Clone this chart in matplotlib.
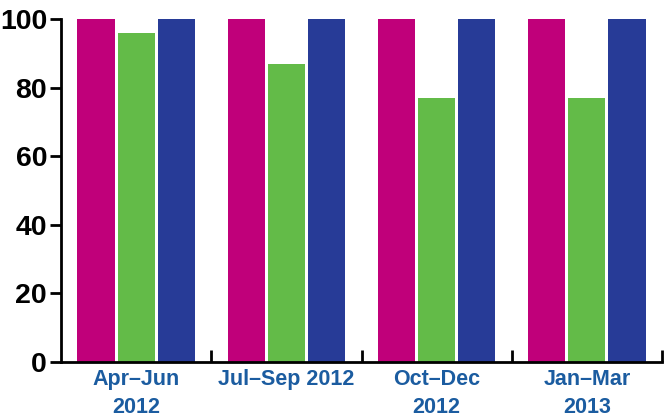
import matplotlib
matplotlib.use("Agg")
import matplotlib.pyplot as plt
import numpy as np

quarters = ["Apr\u2013Jun\n2012", "Jul\u2013Sep 2012", "Oct\u2013Dec\n2012", "Jan\u2013Mar\n2013"]
series_a = [100, 100, 100, 100]   # magenta
series_b = [96, 87, 77, 77]       # green
series_c = [100, 100, 100, 100]   # blue
colors = ["#C0007A", "#63BB48", "#273B97"]

plt.rcParams['font.family'] = ['Liberation Sans', 'DejaVu Sans']

fig = plt.figure(figsize=(6.65, 4.19), dpi=100)
ax = fig.add_axes([61/665, 1 - 362/419, 601/665, 343/419])

x = np.arange(len(quarters)) + 0.5
w = 0.247
step = 0.267
for vals, col, off in zip([series_a, series_b, series_c], colors, [-step, 0, step]):
    ax.bar(x + off, vals, width=w, color=col, linewidth=0)

ax.set_xlim(0, 4)
ax.set_ylim(0, 100)
ax.set_yticks(range(0, 101, 20))
ax.set_yticklabels([str(v) for v in range(0, 101, 20)], fontsize=20.5, fontweight="bold")
ax.tick_params(axis="y", direction="out", length=8, width=2, pad=2)

# group boundary ticks pointing up
ax.set_xticks([1, 2, 3, 4])
ax.set_xticklabels([])
ax.set_xticks(x, minor=True)
ax.set_xticklabels(quarters, minor=True, fontsize=15.5, fontweight="bold",
                   color="#1B5CA0", linespacing=1.45)
ax.tick_params(axis="x", which="major", direction="in", length=9, width=2)
ax.tick_params(axis="x", which="minor", length=0, pad=5)

for s in ["top", "right"]:
    ax.spines[s].set_visible(False)
for s in ["left", "bottom"]:
    ax.spines[s].set_linewidth(2)

fig.savefig("out.png", dpi=100)
